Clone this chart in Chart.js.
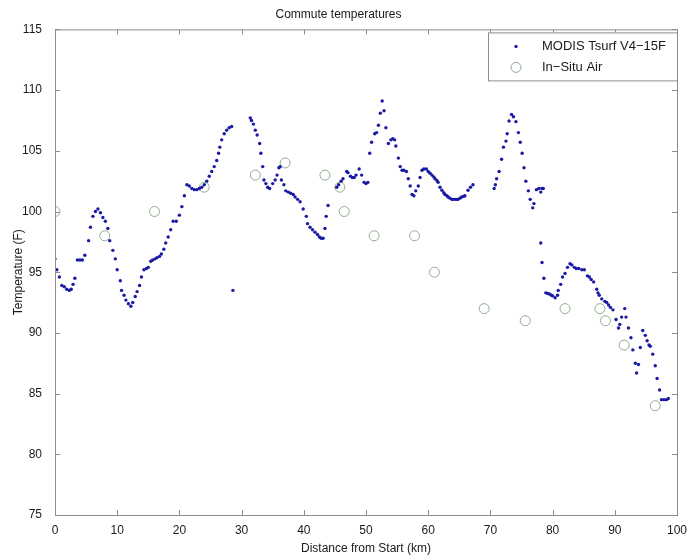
<!DOCTYPE html>
<html lang="en">
<head>
    <meta charset="UTF-8">
    <title>Commute temperatures</title>
    <script src="https://cdn.jsdelivr.net/npm/chart.js"></script>
    <style>
        html, body { margin: 0; padding: 0; background: #fff; }
    </style>
</head>
<body>
    <canvas id="commuteChart" width="692" height="556"></canvas>

    <script>
        // MODIS surface temperature along the route (km, degF)
        const modisKm = [
            0.0, 0.3, 0.7, 1.1, 1.5, 1.9, 2.3, 2.6, 2.9, 3.2, 3.6, 4.0, 4.4, 4.8, 5.4, 5.7,
            6.1, 6.5, 6.9, 7.3, 7.7, 8.1, 8.5, 8.8, 9.3, 9.7, 10.0, 10.5, 10.7, 11.1, 11.4, 11.8,
            12.2, 12.5, 12.9, 13.2, 13.6, 13.9, 14.3, 14.7, 15.0, 15.4, 15.7, 16.1, 16.4, 16.8,
            17.1, 17.5, 17.8, 18.2, 18.6, 19.0, 19.5, 20.0, 20.4, 20.8, 21.2, 21.6, 22.0, 22.4,
            22.8, 23.2, 23.6, 24.0, 24.4, 24.8, 25.2, 25.6, 26.0, 26.3, 26.5, 26.8, 27.2, 27.6,
            28.0, 28.4, 28.6, 31.4, 31.6, 31.9, 32.2, 32.5, 32.9, 33.1, 33.4, 33.6, 33.9, 34.2,
            34.5, 35.0, 35.4, 35.7, 36.0, 36.2, 36.4, 36.8, 37.1, 37.5, 37.9, 38.3, 38.6, 39.0,
            39.4, 39.9, 40.4, 40.6, 41.0, 41.4, 41.8, 42.2, 42.5, 42.8, 43.1, 43.4, 43.6, 43.9,
            45.3, 45.6, 46.0, 46.3, 46.9, 47.1, 47.5, 47.8, 48.1, 48.4, 48.9, 49.3, 49.7, 50.0,
            50.3, 50.6, 50.9, 51.4, 51.7, 52.0, 52.3, 52.6, 52.9, 53.2, 53.6, 54.0, 54.3, 54.6,
            54.8, 55.2, 55.5, 55.8, 56.1, 56.5, 56.8, 57.1, 57.4, 57.7, 58.0, 58.4, 58.7, 59.0,
            59.3, 59.7, 60.0, 60.3, 60.6, 60.9, 61.1, 61.4, 61.6, 61.9, 62.2, 62.5, 62.7, 63.0,
            63.2, 63.5, 63.8, 64.0, 64.3, 64.6, 64.8, 65.1, 65.4, 65.7, 65.9, 66.4, 66.8, 67.2,
            70.6, 70.8, 71.0, 71.4, 71.8, 72.1, 72.5, 72.7, 73.0, 73.4, 73.7, 74.1, 74.5, 74.8,
            75.1, 75.4, 75.7, 76.1, 76.4, 76.8, 77.0, 77.4, 77.8, 78.1, 78.3, 78.5, 78.1, 78.3,
            78.6, 78.9, 79.2, 79.5, 79.8, 80.0, 80.4, 80.8, 80.9, 81.3, 81.6, 82.0, 82.4, 82.8,
            83.1, 83.5, 83.8, 84.2, 84.7, 85.1, 85.6, 85.9, 86.2, 86.6, 87.1, 87.3, 87.5, 87.9,
            88.4, 88.7, 89.0, 89.3, 89.7, 90.2, 90.6, 90.8, 91.1, 91.6, 91.8, 92.2, 92.6, 92.9,
            93.3, 93.5, 93.8, 94.1, 94.5, 94.9, 95.2, 95.5, 95.7, 96.1, 96.5, 96.8, 97.2, 97.5,
            97.9, 98.3, 98.6
        ];
        const modisTemp = [
            96.1, 95.2, 94.6, 93.9, 93.8, 93.6, 93.5, 93.6, 94.0, 94.5, 96.0, 96.0, 96.0, 96.4, 97.6, 98.7,
            99.6, 100.0, 100.2, 99.9, 99.5, 99.2, 98.6, 97.6, 96.8, 96.1, 95.2, 94.3, 93.5, 93.1, 92.7, 92.4,
            92.2, 92.5, 93.0, 93.4, 93.9, 94.6, 95.2, 95.3, 95.4, 95.9, 96.0, 96.1, 96.2, 96.3,
            96.5, 96.9, 97.4, 97.9, 98.5, 99.2, 99.2, 99.7, 100.4, 101.3, 102.2, 102.1, 101.9, 101.8,
            101.8, 101.9, 102.0, 102.2, 102.5, 102.9, 103.3, 103.7, 104.2, 104.8, 105.3, 105.9, 106.4, 106.7,
            106.9, 107.0, 93.5, 107.7, 107.5, 107.2, 106.7, 106.3, 105.6, 104.8, 103.7, 102.6, 102.3, 102.0,
            101.9, 102.3, 102.6, 103.0, 103.6, 103.7, 102.6, 102.2, 101.7, 101.6, 101.5, 101.4, 101.2, 101.0,
            100.8, 100.2, 99.6, 99.0, 98.7, 98.5, 98.3, 98.1, 97.9, 97.8, 97.8, 98.6, 99.6, 100.5,
            102.0, 102.2, 102.5, 102.7, 103.3, 103.2, 102.9, 102.8, 102.8, 103.0, 103.5, 103.0, 102.4, 102.3,
            102.4, 104.8, 105.7, 106.4, 106.5, 107.1, 108.1, 109.1, 108.3, 106.9, 105.6, 105.9, 106.0, 105.9,
            105.4, 104.4, 103.7, 103.4, 103.4, 103.3, 102.7, 102.1, 101.4, 101.3, 101.7, 102.1, 102.8, 103.4,
            103.5, 103.5, 103.3, 103.15, 103.0, 102.85, 102.7, 102.55, 102.4, 102.0, 101.75, 101.55, 101.4, 101.3,
            101.2, 101.1, 101.0, 101.0, 101.0, 101.0, 101.0, 101.1, 101.2, 101.25, 101.3, 101.75, 102.0, 102.2,
            101.9, 102.2, 102.7, 103.3, 104.3, 105.3, 105.8, 106.4, 107.45, 108.0, 107.8, 107.4, 106.5, 105.7,
            104.8, 103.6, 102.5, 101.7, 101.0, 100.3, 100.65, 101.8, 101.9, 101.6, 101.9, 101.9, 97.4, 95.8,
            94.5, 93.3, 93.25, 93.2, 93.1, 93.05, 92.9, 93.1, 93.5, 94.0, 94.6, 94.9, 95.4, 95.7,
            95.6, 95.4, 95.3, 95.3, 95.2, 95.2, 94.7, 94.6, 94.4, 94.2, 93.6, 93.3, 93.1, 92.8,
            92.6, 92.5, 92.3, 92.1, 91.9, 91.1, 90.4, 90.7, 91.3, 92.0, 91.3, 90.4, 89.6, 88.6,
            87.5, 86.7, 87.4, 88.8, 90.2, 89.8, 89.35, 89.0, 88.9, 88.25, 87.3, 86.25, 85.3, 84.5,
            84.5, 84.5, 84.6
        ];

        // In-situ air temperature readings
        const insituKm = [0, 8, 16, 24, 32.2, 37, 43.4, 45.8, 46.5, 51.3, 57.8, 61, 69, 75.6, 82, 87.6, 88.5, 91.5, 96.5];
        const insituTemp = [100, 98, 100, 102, 103, 104, 103, 102, 100, 98, 98, 95, 92, 91, 92, 92, 91, 89, 84];

        const xTicks = [0, 10, 20, 30, 40, 50, 60, 70, 80, 90, 100];
        const yTicks = [75, 80, 85, 90, 95, 100, 105, 110, 115];

        const FONT = '"Liberation Sans", Arial, Helvetica, sans-serif';
        const TEXT = '#1a1a1a';
        const AXIS = '#8c8c8c';

        const toPoints = (xs, ys) => xs.map((x, i) => ({ x: x, y: ys[i] }));

        // box round the axes, with inward ticks on all four sides (MATLAB look)
        const frameTicks = {
            id: 'frameTicks',
            afterDraw(chart) {
                const ctx = chart.ctx;
                const a = chart.chartArea;
                const sx = chart.scales.x, sy = chart.scales.y;
                const len = 5;
                ctx.save();
                ctx.strokeStyle = AXIS;
                ctx.lineWidth = 1;
                ctx.strokeRect(a.left + 0.5, a.top + 0.5, a.right - a.left, a.bottom - a.top);
                ctx.beginPath();
                xTicks.forEach(v => {
                    const p = Math.round(sx.getPixelForValue(v)) + 0.5;
                    ctx.moveTo(p, a.bottom); ctx.lineTo(p, a.bottom - len);
                    ctx.moveTo(p, a.top); ctx.lineTo(p, a.top + len);
                });
                yTicks.forEach(v => {
                    const p = Math.round(sy.getPixelForValue(v)) + 0.5;
                    ctx.moveTo(a.left, p); ctx.lineTo(a.left + len, p);
                    ctx.moveTo(a.right, p); ctx.lineTo(a.right - len, p);
                });
                ctx.stroke();
                ctx.restore();
            }
        };

        // legend box inside the top right corner
        const insideLegend = {
            id: 'insideLegend',
            afterDraw(chart) {
                const ctx = chart.ctx;
                const a = chart.chartArea;
                const w = 189, h = 48;
                const left = a.right - w, top = a.top + 3;
                ctx.save();
                ctx.fillStyle = '#fff';
                ctx.fillRect(left, top, w, h);
                ctx.strokeStyle = AXIS;
                ctx.lineWidth = 1;
                ctx.strokeRect(left + 0.5, top + 0.5, w, h);
                ctx.font = '13px ' + FONT;
                ctx.textBaseline = 'middle';
                chart.data.datasets.forEach((ds, i) => {
                    const cy = top + 14 + i * 21;
                    ctx.beginPath();
                    ctx.arc(left + 28, cy, ds.pointRadius, 0, Math.PI * 2);
                    if (ds.pointBorderWidth > 0) {
                        ctx.strokeStyle = ds.pointBorderColor;
                        ctx.lineWidth = ds.pointBorderWidth;
                        ctx.stroke();
                    } else {
                        ctx.fillStyle = ds.pointBackgroundColor;
                        ctx.fill();
                    }
                    ctx.fillStyle = TEXT;
                    ctx.fillText(ds.label, left + 54, cy);
                });
                ctx.restore();
            }
        };

        const ctx = document.getElementById('commuteChart').getContext('2d');
        new Chart(ctx, {
            type: 'scatter',
            data: {
                datasets: [{
                    label: 'MODIS Tsurf V4\u221215F',
                    data: toPoints(modisKm, modisTemp),
                    pointRadius: 1.7,
                    pointBackgroundColor: '#1a1aa5',
                    pointBorderColor: '#1a1aa5',
                    pointBorderWidth: 0
                }, {
                    label: 'In\u2212Situ Air',
                    data: toPoints(insituKm, insituTemp),
                    pointRadius: 5,
                    pointBackgroundColor: 'rgba(0,0,0,0)',
                    pointBorderColor: '#8fae8f',
                    pointBorderWidth: 1
                }]
            },
            options: {
                responsive: false,
                animation: false,
                layout: { padding: { left: 0, right: 15, top: 0, bottom: 0 } },
                plugins: {
                    legend: { display: false },
                    tooltip: { enabled: false },
                    title: {
                        display: true,
                        text: 'Commute temperatures',
                        color: TEXT,
                        font: { family: FONT, size: 12, weight: 'normal' },
                        padding: { top: 7, bottom: 8 }
                    }
                },
                scales: {
                    x: {
                        type: 'linear',
                        min: 0, max: 100,
                        afterFit: s => { s.height = 41; },
                        afterBuildTicks: s => { s.ticks = xTicks.map(v => ({ value: v })); },
                        grid: { display: false },
                        border: { display: false },
                        ticks: { color: TEXT, font: { family: FONT, size: 12 }, padding: 0, maxRotation: 0 },
                        title: {
                            display: true,
                            text: 'Distance from Start (km)',
                            color: TEXT,
                            font: { family: FONT, size: 12 },
                            padding: { top: 7, bottom: 0 }
                        }
                    },
                    y: {
                        type: 'linear',
                        min: 75, max: 115,
                        afterFit: s => { s.width = 55; },
                        afterBuildTicks: s => { s.ticks = yTicks.map(v => ({ value: v })); },
                        grid: { display: false },
                        border: { display: false },
                        ticks: { color: TEXT, font: { family: FONT, size: 12 }, padding: 5 },
                        title: {
                            display: true,
                            text: 'Temperature (F)',
                            color: TEXT,
                            font: { family: FONT, size: 12 },
                            padding: { top: 11, bottom: 0 }
                        }
                    }
                }
            },
            plugins: [frameTicks, insideLegend]
        });
    </script>
</body>
</html>
